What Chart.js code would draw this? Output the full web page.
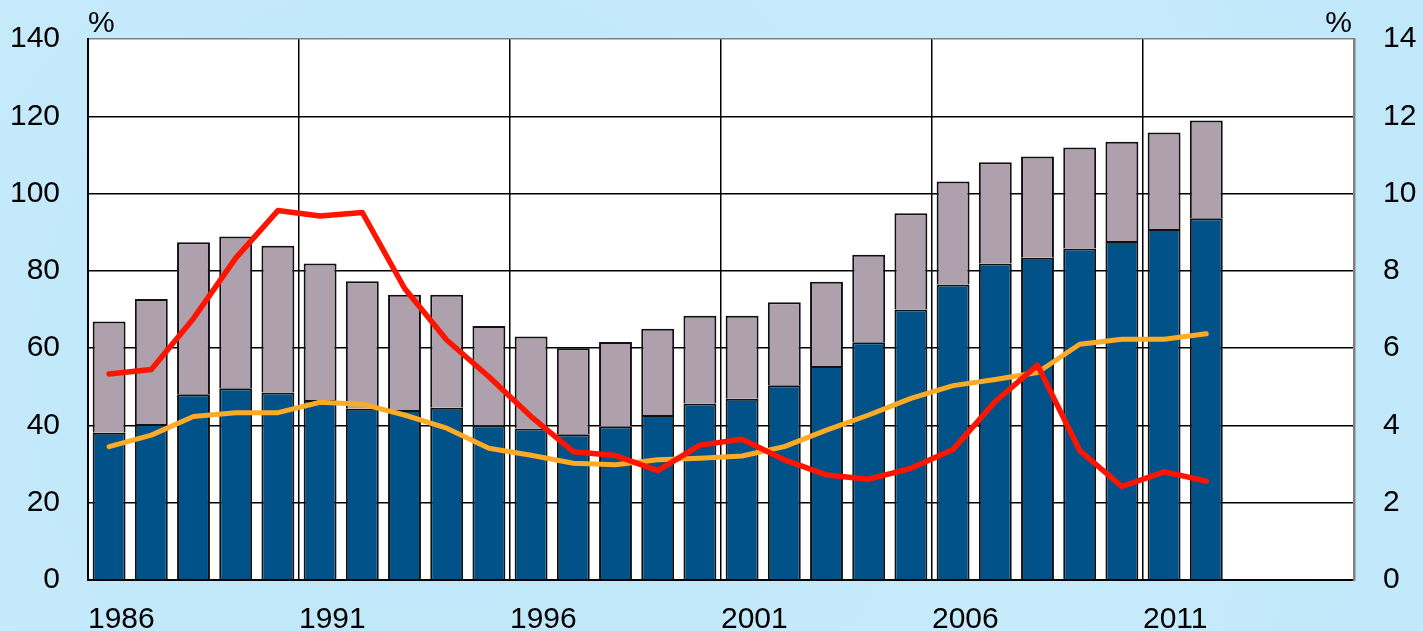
<!DOCTYPE html>
<html>
<head>
<meta charset="utf-8">
<script src="https://cdn.jsdelivr.net/npm/chart.js@4.4.1/dist/chart.umd.min.js"></script>
<style>
  html, body { margin: 0; padding: 0; background: #c2e9fa; }
  #wrap { width: 1423px; height: 631px; position: relative;
    background: radial-gradient(circle at 30% 60%, #bde6f8 0%, #c6ebfb 60%, #c0e8fa 100%); }
  canvas { display: block; }
</style>
</head>
<body>
<div id="wrap"><canvas id="c" width="1423" height="631"></canvas></div>
<script>
// Categories: one per year; the axis runs to the end of 2015
const years = [1986,1987,1988,1989,1990,1991,1992,1993,1994,1995,1996,1997,1998,1999,2000,
               2001,2002,2003,2004,2005,2006,2007,2008,2009,2010,2011,2012,2013,2014,2015];
// Left axis (%): lower (blue) and upper (grey) bar segments
const blueBars = [38.1,40.4,48.1,49.6,48.5,46.6,44.3,44.0,44.6,40.0,39.2,37.7,39.7,42.7,45.7,
                  46.9,50.4,55.4,61.5,70.0,76.5,81.9,83.4,85.8,87.7,90.8,93.6];
const greyBars = [28.8,32.3,39.3,39.3,38.0,35.3,33.0,29.8,29.2,25.7,23.8,22.3,21.9,22.3,22.7,
                  21.5,21.5,21.8,22.7,24.9,26.6,26.2,26.2,26.1,25.7,25.0,25.3];
// Right axis (%): lines
const redLine = [5.33,5.45,6.77,8.33,9.56,9.42,9.51,7.55,6.21,5.26,4.23,3.32,3.22,2.83,3.49,
                 3.64,3.11,2.72,2.61,2.89,3.38,4.62,5.56,3.35,2.42,2.80,2.56];
const orangeLine = [3.45,3.75,4.23,4.33,4.33,4.60,4.55,4.27,3.93,3.41,3.23,3.02,2.98,3.11,3.15,
                    3.21,3.45,3.88,4.27,4.70,5.03,5.19,5.37,6.10,6.23,6.23,6.37];
// Tick labels
const xTickStart = 1986, xTickEnd = 2016, xTickStep = 5;
const leftMax = 140, leftStep = 20, rightMax = 14, rightStep = 2;

const FONT = "'Liberation Sans', Arial, sans-serif";
Chart.defaults.font.family = FONT;
Chart.defaults.color = '#000';

const plotBg = {
  id: 'plotBg',
  beforeDraw(chart) {
    const {ctx, chartArea: a} = chart;
    ctx.save();
    ctx.fillStyle = '#ffffff';
    ctx.fillRect(a.left, a.top, a.right - a.left, a.bottom - a.top);
    ctx.restore();
  },
  afterDraw(chart) {
    const {ctx, chartArea: a} = chart;
    ctx.save();
    ctx.fillStyle = '#000';
    ctx.font = '30px ' + FONT;
    ctx.textBaseline = 'alphabetic';
    ctx.textAlign = 'left';
    ctx.fillText('%', a.left, a.top - 7);
    ctx.textAlign = 'right';
    ctx.fillText('%', a.right - 2, a.top - 7);
    ctx.restore();
  }
};

function noPad(s) { s.paddingTop = 0; s.paddingBottom = 0; s.paddingLeft = 0; s.paddingRight = 0; }

new Chart(document.getElementById('c'), {
  data: {
    labels: years,
    datasets: [
      { type: 'bar', data: blueBars, backgroundColor: '#02528a', borderColor: '#111',
        borderWidth: 2, xAxisID: 'x', yAxisID: 'y', stack: 's', order: 2,
        barPercentage: 0.78, categoryPercentage: 1 },
      { type: 'bar', data: greyBars, backgroundColor: '#aea0ad', borderColor: '#111',
        borderWidth: 2, xAxisID: 'x', yAxisID: 'y', stack: 's', order: 2,
        barPercentage: 0.78, categoryPercentage: 1 },
      { type: 'line', data: redLine, borderColor: '#ff1400', borderWidth: 5.5,
        pointRadius: 0, tension: 0, xAxisID: 'x', yAxisID: 'y1', order: 0,
        borderCapStyle: 'round', borderJoinStyle: 'round' },
      { type: 'line', data: orangeLine, borderColor: '#fdab26', borderWidth: 5,
        pointRadius: 0, tension: 0, xAxisID: 'x', yAxisID: 'y1', order: 1,
        borderCapStyle: 'round', borderJoinStyle: 'round' }
    ]
  },
  options: {
    responsive: false,
    animation: false,
    devicePixelRatio: 1,
    layout: { padding: { top: 39, left: 0, right: 0, bottom: 0 } },
    plugins: { legend: { display: false }, tooltip: { enabled: false } },
    scales: {
      x: { type: 'category', display: false, offset: true, stacked: true },
      xt: {
        type: 'linear', position: 'bottom', min: xTickStart, max: xTickEnd,
        afterFit(s) { s.height = 51; noPad(s); },
        ticks: { stepSize: xTickStep, align: 'start', padding: 22, autoSkip: false,
                 font: { size: 30 }, color: '#000',
                 callback: v => (v >= xTickEnd ? '' : String(v)) },
        grid: { drawTicks: false, lineWidth: 1.5,
                color: ctx => (ctx.tick && ctx.tick.value >= xTickEnd ? '#808080' : '#000') },
        border: { display: true, color: '#000', width: 2 }
      },
      y: {
        type: 'linear', position: 'left', min: 0, max: leftMax, stacked: true,
        afterFit(s) { s.width = 88; noPad(s); },
        ticks: { stepSize: leftStep, padding: 28, font: { size: 30 }, color: '#000' },
        grid: { drawTicks: false, lineWidth: 1.5,
                color: ctx => (ctx.tick && ctx.tick.value >= leftMax ? '#808080' : '#000') },
        border: { display: true, color: '#000', width: 2 }
      },
      y1: {
        type: 'linear', position: 'right', min: 0, max: rightMax,
        afterFit(s) { s.width = 69; noPad(s); },
        ticks: { stepSize: rightStep, padding: 29, font: { size: 30 }, color: '#000' },
        grid: { display: false, drawTicks: false },
        border: { display: true, color: '#808080', width: 2.5 }
      }
    }
  },
  plugins: [plotBg]
});
</script>
</body>
</html>
